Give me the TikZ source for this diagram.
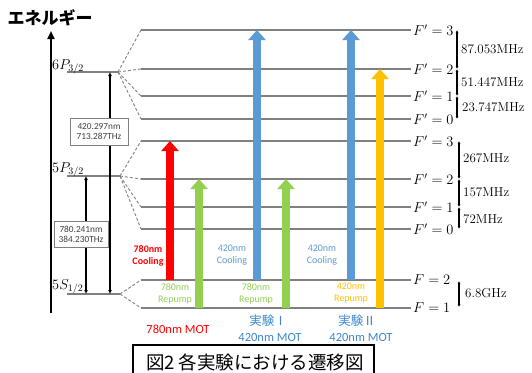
\documentclass[tikz,border=0pt]{standalone}
\usepackage{fontspec}
\usetikzlibrary{arrows.meta}
\newfontfamily\jpfont{Noto Sans CJK JP}
\newfontfamily\calfont{Carlito}
\definecolor{lvlgray}{HTML}{808080}
\definecolor{mygreen}{HTML}{92D050}
\definecolor{myblue}{HTML}{5B9BD5}
\definecolor{myblue2}{HTML}{3C88CC}
\definecolor{myyellow}{HTML}{FFC000}
\definecolor{boxtext}{HTML}{404040}
\tikzset{
  lvl/.style={draw=lvlgray, line width=1.2pt},
  dsh/.style={draw=lvlgray, line width=0.9pt, dash pattern=on 3pt off 2pt},
  blk/.style={draw=#1, line width=8.5pt, -{Triangle[width=17pt,length=10pt]}},
  trans/.style={draw=black, line width=1.7pt, {Latex[length=4pt,width=4pt]}-{Latex[length=4pt,width=4pt]}},
  hfs/.style={draw=black, line width=1.1pt, {Latex[length=3pt,width=3pt]}-{Latex[length=3pt,width=3pt]}},
  flab/.style={anchor=west, inner sep=0pt, font=\fontsize{14}{16}\selectfont},
  mhz/.style={anchor=west, inner sep=0pt, font=\fontsize{13}{15}\selectfont},
  slab/.style={anchor=base west, inner sep=0pt, font=\fontsize{14.5}{16}\selectfont},
  wlab/.style={align=center, inner sep=0pt, font=\calfont\fontsize{10}{12}\selectfont},
  boxn/.style={draw=lvlgray, fill=white, line width=0.8pt, align=center, inner sep=0pt, text=boxtext, font=\calfont\fontsize{9.3}{10.5}\selectfont},
  blab/.style={inner sep=0pt, font=\calfont\fontsize{12.5}{14}\selectfont},
  jlab/.style={inner sep=0pt, font=\jpfont\fontsize{12.5}{14}\selectfont}
}
\begin{document}
\begin{tikzpicture}[x=1pt,y=-1pt]
\useasboundingbox (0,0) rectangle (532,372);
% energy axis
\coordinate (ax0) at (51,313);
\coordinate (ax1) at (51,31);
\draw[line width=2.2pt, -{Triangle[length=8pt,width=7pt]}] (ax0) -- (ax1);
\node[inner sep=0pt, font=\jpfont\bfseries\fontsize{17}{19}\selectfont] (elab) at (50,18) {エネルギー};
% fine-structure levels
\draw[lvl] (67,72) coordinate (p6L) -- (118,72) coordinate (p6);
\draw[lvl] (67,176) coordinate (p5L) -- (120,176) coordinate (p5);
\draw[lvl] (67,294) coordinate (s5L) -- (120,294) coordinate (s5);
\node[slab] (l6p) at (52,69) {$6P_{3/2}$};
\node[slab] (l5p) at (52,172) {$5P_{3/2}$};
\node[slab] (l5s) at (52,289) {$5S_{1/2}$};
% hyperfine levels
\foreach \y/\n in {30/a3,69/a2,96/a1,119/a0,141/b3,179/b2,207/b1,229/b0,280/c2,308/c1}{
  \draw[lvl] (141,\y) coordinate (\n L) -- (411,\y) coordinate (\n R);
}
\foreach \n/\t in {a3/3,a2/2,a1/1,a0/0,b3/3,b2/2,b1/1,b0/0}{
  \node[flab] (\n T) at ([xshift=2pt]\n R) {$F' = \t$};
}
\node[flab] (c2T) at ([xshift=2pt]c2R) {$F = 2$};
\node[flab] (c1T) at ([xshift=2pt]c1R) {$F = 1$};
% dashed connectors
\foreach \n in {a3,a2,a1,a0}{\draw[dsh] (p6) -- (\n L);}
\foreach \n in {b3,b2,b1,b0}{\draw[dsh] (p5) -- (\n L);}
\foreach \n in {c2,c1}{\draw[dsh] (s5) -- (\n L);}
% optical transitions
\coordinate (t420a) at (110,72);
\coordinate (t420b) at (110,294);
\coordinate (t780a) at (86,176);
\coordinate (t780b) at (86,294);
\draw[trans] (t420b) -- (t420a);
\draw[trans] (t780b) -- (t780a);
\node[boxn, minimum width=58pt, minimum height=27pt] (box420) at (99,131.5) {420.297nm\\713.287THz};
\node[boxn, minimum width=54pt, minimum height=26pt] (box780) at (81,234.5) {780.241nm\\384.230THz};
% hyperfine splittings
\coordinate (h1) at (457,30);
\coordinate (h2) at (457,69);
\coordinate (h3) at (457,96);
\coordinate (h4) at (457,119);
\draw[hfs] (h1) -- (h2);
\draw[hfs] (h2) -- (h3);
\draw[hfs] (h3) -- (h4);
\node[mhz] (m1) at (461,49) {87.053MHz};
\node[mhz] (m2) at (461,82) {51.447MHz};
\node[mhz] (m3) at (462,107) {23.747MHz};
\coordinate (k1) at (459,141);
\coordinate (k2) at (459,179);
\coordinate (k3) at (459,207);
\coordinate (k4) at (459,229);
\draw[hfs] (k1) -- (k2);
\draw[hfs] (k2) -- (k3);
\draw[hfs] (k3) -- (k4);
\node[mhz] (m4) at (463,158) {267MHz};
\node[mhz] (m5) at (463,192) {157MHz};
\node[mhz] (m6) at (463,219) {72MHz};
\coordinate (g1) at (459,281);
\coordinate (g2) at (459,307);
\draw[hfs] (g1) -- (g2);
\node[mhz] (m7) at (465,293) {6.8GHz};
% laser arrows
\draw[blk=red] (170,280) -- (170,141);
\draw[blk=mygreen] (199,308) -- (199,179);
\draw[blk=myblue] (257,280) -- (257,30);
\draw[blk=mygreen] (286,308) -- (286,179);
\draw[blk=myblue] (351,280) -- (351,30);
\draw[blk=myyellow] (380,308) -- (380,69);
% laser labels
\node[wlab, text=red, font=\calfont\bfseries\fontsize{10}{12}\selectfont] (r1) at (148,256) {780nm\\Cooling};
\node[wlab, text=mygreen] (g1l) at (175,293.5) {780nm\\Repump};
\node[wlab, text=myblue] (b1l) at (232,255.5) {420nm\\Cooling};
\node[wlab, text=mygreen] (g2l) at (256,293.5) {780nm\\Repump};
\node[wlab, text=myblue] (b2l) at (322,255.5) {420nm\\Cooling};
\node[wlab, text=myyellow] (y1l) at (351,293.5) {420nm\\Repump};
% experiment labels
\node[blab, text=red] (e0) at (178,329) {780nm MOT};
\node[jlab, text=myblue2] (e1) at (268,321) {実験Ⅰ};
\node[blab, text=myblue2] (e1b) at (270,337) {420nm MOT};
\node[jlab, text=myblue2] (e2) at (357,321) {実験Ⅱ};
\node[blab, text=myblue2] (e2b) at (361,337) {420nm MOT};
% caption
\draw[line width=1.2pt] (133,376) -- (133,345) -- (374,345) -- (374,376);
\node[inner sep=0pt, font=\jpfont\fontsize{18.5}{20}\selectfont] (cap) at (255,362) {図2 各実験における遷移図};
\end{tikzpicture}
\end{document}
